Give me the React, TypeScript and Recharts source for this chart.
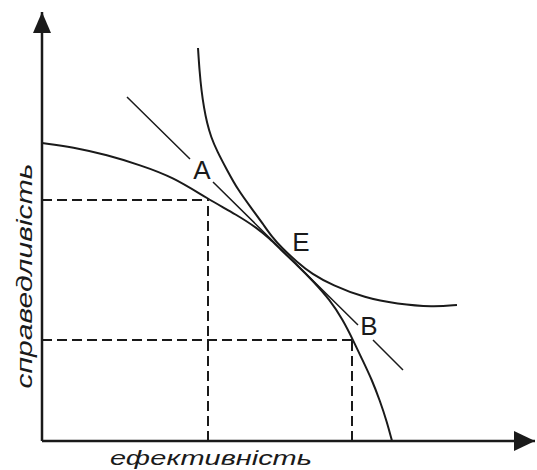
import { ComposedChart, Line, XAxis, YAxis, ReferenceLine, ReferenceDot } from "recharts";

// production possibility frontier (efficiency, equity)
const ppfX = [0, 31, 65, 98, 131, 166, 195, 215, 228, 238, 255, 271, 288, 301, 311, 320, 330, 338, 345, 350];
const ppfY = [298, 294, 286, 276, 264, 242, 226, 213, 202, 192, 176, 160, 141, 121, 101, 82, 61, 40, 19, 0];

// social indifference curve
const icX = [156, 157.5, 159.5, 162, 165, 169, 175, 185, 196, 210, 221, 230, 240, 255, 270, 290, 323, 355, 391, 415];
const icY = [393, 370, 350, 333, 318, 304, 290, 271, 251, 232, 217, 204, 193, 179, 167, 156, 143, 137, 134, 136];

// tangent line through E, broken around the A and B labels
const tanX = [85, 148, 160, 171, 316, 323, 331, 361];
const tanY: (number | null)[] = [344, 282, null, 259, 116, null, 101, 71];

const pointA = { x: 166, y: 241 };
const pointB = { x: 310, y: 101 };

const labels = [
  { name: "A", x: 160, y: 271 },
  { name: "E", x: 259, y: 199 },
  { name: "B", x: 327, y: 115 },
];

const xTitle = "ефективність";
const yTitle = "справедливість";

const X_MAX = 493;
const Y_MAX = 429;

const zip = (xs: number[], ys: (number | null)[]) => xs.map((x, i) => ({ x, y: ys[i] }));

const ppf = zip(ppfX, ppfY);
const ic = zip(icX, icY);
const tangent = zip(tanX, tanY);

const ink = "#1a1a1a";
const font = "'Liberation Sans', Arial, sans-serif";

export default function App() {
  return (
    <div style={{ position: "absolute", left: 0, top: 0, background: "#fff" }}>
      <ComposedChart width={537} height={470} margin={{ top: 12, right: 2, bottom: 29, left: 42 }}>
        <XAxis type="number" dataKey="x" domain={[0, X_MAX]} hide allowDataOverflow />
        <YAxis type="number" dataKey="y" domain={[0, Y_MAX]} hide allowDataOverflow />

        <ReferenceLine segment={[{ x: 0, y: pointA.y }, pointA]} stroke={ink} strokeWidth={2} strokeDasharray="10 5" />
        <ReferenceLine segment={[{ x: pointA.x, y: 0 }, pointA]} stroke={ink} strokeWidth={2} strokeDasharray="10 5" />
        <ReferenceLine segment={[{ x: 0, y: pointB.y }, pointB]} stroke={ink} strokeWidth={2} strokeDasharray="10 5" />
        <ReferenceLine segment={[{ x: pointB.x, y: 0 }, pointB]} stroke={ink} strokeWidth={2} strokeDasharray="10 5" />

        <Line data={tangent} dataKey="y" type="linear" stroke={ink} strokeWidth={1.5} dot={false} isAnimationActive={false} connectNulls={false} />
        <Line data={ppf} dataKey="y" type="basis" stroke={ink} strokeWidth={2} dot={false} isAnimationActive={false} />
        <Line data={ic} dataKey="y" type="basis" stroke={ink} strokeWidth={2} dot={false} isAnimationActive={false} />

        <ReferenceLine y={0} stroke={ink} strokeWidth={2.5} />
        <ReferenceLine x={0} stroke={ink} strokeWidth={2.5} />

        <ReferenceDot
          x={0}
          y={Y_MAX}
          ifOverflow="visible"
          shape={(p: any) => (
            <polygon points={`${p.cx},${p.cy} ${p.cx - 9},${p.cy + 21} ${p.cx + 9},${p.cy + 21}`} fill={ink} />
          )}
        />
        <ReferenceDot
          x={X_MAX}
          y={0}
          ifOverflow="visible"
          shape={(p: any) => (
            <polygon points={`${p.cx},${p.cy} ${p.cx - 21},${p.cy - 10} ${p.cx - 21},${p.cy + 10}`} fill={ink} />
          )}
        />

        {labels.map((l) => (
          <ReferenceDot
            key={l.name}
            x={l.x}
            y={l.y}
            ifOverflow="visible"
            shape={(p: any) => (
              <text x={p.cx} y={p.cy} textAnchor="middle" dominantBaseline="central" fontFamily={font} fontSize={26} fill={ink}>
                {l.name}
              </text>
            )}
          />
        ))}

        <ReferenceDot
          x={169}
          y={-17}
          ifOverflow="visible"
          shape={(p: any) => (
            <text
              x={p.cx}
              y={p.cy}
              textAnchor="middle"
              dominantBaseline="central"
              fontFamily={font}
              fontStyle="italic"
              fontSize={20}
              textLength={202}
              lengthAdjust="spacingAndGlyphs"
              fill={ink}
            >
              {xTitle}
            </text>
          )}
        />
        <ReferenceDot
          x={-18}
          y={165}
          ifOverflow="visible"
          shape={(p: any) => (
            <text
              x={p.cx}
              y={p.cy}
              transform={`rotate(-90 ${p.cx} ${p.cy})`}
              textAnchor="middle"
              dominantBaseline="central"
              fontFamily={font}
              fontStyle="italic"
              fontSize={22}
              textLength={225}
              lengthAdjust="spacingAndGlyphs"
              fill={ink}
            >
              {yTitle}
            </text>
          )}
        />
      </ComposedChart>
    </div>
  );
}
